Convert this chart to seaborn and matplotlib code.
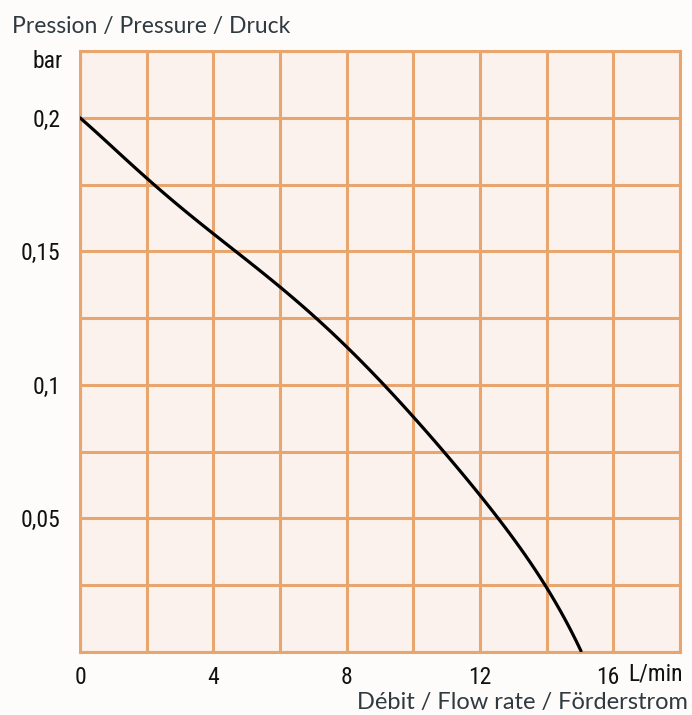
import matplotlib
matplotlib.use("Agg")
import matplotlib.pyplot as plt
import seaborn as sns
import pandas as pd
from matplotlib import font_manager
from matplotlib.transforms import ScaledTranslation
from matplotlib.ticker import MultipleLocator, FixedLocator

# Pump curve: flow rate (L/min) vs pressure (bar)
flow = [0, 2, 4, 6, 7.05, 8, 9.15, 10, 10.95, 12, 12.5, 13.25, 14, 14.55, 15.03]
pressure = [0.200, 0.1773, 0.1567, 0.137, 0.125, 0.1137, 0.100, 0.0881,
            0.075, 0.0588, 0.050, 0.0375, 0.025, 0.0125, 0.0]

x_ticks = [0, 4, 8, 12, 16]
x_labels = ["0", "4", "8", "12", "16"]
y_ticks = [0.05, 0.1, 0.15, 0.2]
y_labels = ["0,05", "0,1", "0,15", "0,2"]

sns.set_theme(style="white")

# pick a narrow sans face for numbers if one is available
installed = {f.name for f in font_manager.fontManager.ttflist}
narrow = [n for n in ["Liberation Sans Narrow", "Roboto Condensed", "Open Sans Condensed",
                      "Noto Sans Condensed", "DejaVu Sans Condensed"] if n in installed]
num_family = narrow + ["Roboto", "DejaVu Sans"]
plt.rcParams["font.family"] = num_family
plt.rcParams["font.stretch"] = "condensed"

grid_col = "#e8a56e"
text_col = "#2f3a40"
num_col = "#111111"

fig = plt.figure(figsize=(6.92, 7.15), dpi=100)
fig.patch.set_facecolor("#fdfcfb")
ax = fig.add_axes([80 / 692, 63 / 715, 600 / 692, 601 / 715])
ax.set_facecolor("#fbf2ed")

# smooth characteristic curve fitted through the measured points
df = pd.DataFrame({"flow": flow, "pressure": pressure})
sns.regplot(data=df, x="flow", y="pressure", ax=ax, order=6, ci=None,
            scatter=False, truncate=True, n_boot=0,
            line_kws={"color": "black", "linewidth": 2.3, "zorder": 5})

ax.set_xlim(0, 18)
ax.set_ylim(0, 0.225)
ax.xaxis.set_major_locator(FixedLocator(x_ticks))
ax.set_xticklabels(x_labels)
ax.yaxis.set_major_locator(FixedLocator(y_ticks))
ax.set_yticklabels(y_labels)
ax.xaxis.set_minor_locator(MultipleLocator(2))
ax.yaxis.set_minor_locator(MultipleLocator(0.025))
ax.grid(which="both", color=grid_col, linewidth=2.2)
ax.set_axisbelow(True)
ax.tick_params(which="both", length=0)
ax.tick_params(axis="x", pad=10, labelsize=17, labelcolor=num_col)
ax.tick_params(axis="y", pad=14, labelsize=17, labelcolor=num_col)
for s in ax.spines.values():
    s.set_color(grid_col)
    s.set_linewidth(2.2)
ax.set_xlabel("")
ax.set_ylabel("")

# nudge the last flow label left so it clears the unit
for lab in ax.get_xticklabels():
    if lab.get_text() == "16":
        lab.set_transform(lab.get_transform() + ScaledTranslation(-0.06, 0, fig.dpi_scale_trans))

fig.text(12 / 692, 1 - 26 / 715, "Pression / Pressure / Druck", fontsize=16.5,
         color=text_col, family=["Lato", "DejaVu Sans"], stretch="normal",
         va="center", ha="left")
fig.text(63 / 692, 1 - 62 / 715, "bar", fontsize=17, color=num_col,
         va="center", ha="right")
fig.text(683 / 692, 1 - 674 / 715, "L/min", fontsize=17, color=num_col,
         va="center", ha="right")
fig.text(688 / 692, 1 - 702 / 715, "Débit / Flow rate / Förderstrom", fontsize=17,
         color=text_col, family=["Lato", "DejaVu Sans"], stretch="normal",
         va="center", ha="right")

fig.savefig("out.png", dpi=100, facecolor=fig.get_facecolor())
